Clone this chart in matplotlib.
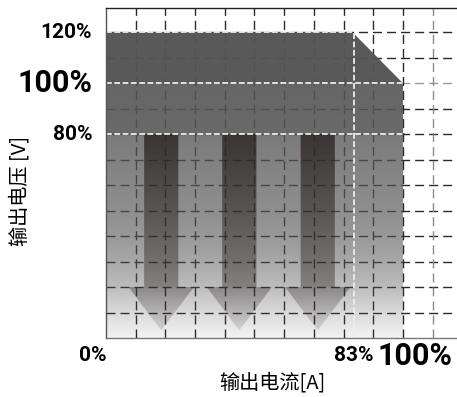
import numpy as np
import matplotlib
matplotlib.use("Agg")
import matplotlib.pyplot as plt
from matplotlib.patches import Polygon

# 输出特性 (单位: %)
limit_current = [0, 0, 83, 100, 100]
limit_voltage = [0, 120, 120, 100, 0]
x_tick_values = [0, 83, 100]
x_tick_labels = ["0%", "83%", "100%"]
y_tick_values = [80, 100, 120]
y_tick_labels = ["80%", "100%", "120%"]
arrow_centers = [18.6, 44.9, 71.3]   # 下降箭头位置 (% 电流)

cjk = ["Noto Sans CJK SC", "DejaVu Sans"]
num_font = ["Roboto", "DejaVu Sans"]

fig = plt.figure(figsize=(4.57, 3.97), dpi=100)
ax = fig.add_axes([106 / 457, 59 / 397, 351 / 457, 330 / 397])
ax.set_xlim(0, 118.2)
ax.set_ylim(0, 129.5)
ax.set_xticks([])
ax.set_yticks([])

dash = (0, (6.5, 3.6))
grid_c = "#2a2a2a"
# 网格
for y in range(10, 130, 10):
    c = "#9a9a9a" if y == 100 else grid_c
    ax.plot([0, 118.2], [y, y], color=c, lw=1, ls=dash, zorder=1)
for x in range(10, 120, 10):
    c = "#8a8a8a" if x == 110 else grid_c
    ax.plot([x, x], [0, 129.5], color=c, lw=1, ls=dash, zorder=1)

# 工作区域 (渐变覆盖层)
area = Polygon(np.column_stack([limit_current, limit_voltage]), closed=True,
               facecolor="none", edgecolor="none")
ax.add_patch(area)
ys = np.linspace(0, 120, 600)
alpha = np.interp(ys, [0, 10, 20, 30, 40, 50, 60, 70, 79.9, 80, 99.9, 100, 120],
                  [0.07, 0.22, 0.39, 0.51, 0.60, 0.66, 0.70, 0.74, 0.78, 0.88, 0.9, 0.97, 0.97])
img = np.zeros((len(ys), 1, 4))
img[..., :3] = 0.33
img[:, 0, 3] = alpha
im = ax.imshow(img, extent=(0, 100, 0, 120), origin="lower", aspect="auto",
               interpolation="bilinear", zorder=2)
im.set_clip_path(area)

# 下降箭头
shaft_w, head_w = 11.5, 22.0
for cx in arrow_centers:
    pts = [(cx - shaft_w / 2, 80), (cx + shaft_w / 2, 80), (cx + shaft_w / 2, 20),
           (cx + head_w / 2, 20), (cx, 3), (cx - head_w / 2, 20), (cx - shaft_w / 2, 20)]
    arr = Polygon(pts, closed=True, facecolor="none", edgecolor="none")
    ax.add_patch(arr)
    ya = np.linspace(0, 80, 400)
    aa = np.interp(ya, [3, 19.9, 20, 40, 60, 80], [0.12, 0.33, 0.38, 0.45, 0.58, 0.76])
    aimg = np.zeros((len(ya), 1, 4))
    aimg[..., 0] = 0.15
    aimg[..., 1] = 0.12
    aimg[..., 2] = 0.12
    aimg[:, 0, 3] = aa
    a_im = ax.imshow(aimg, extent=(cx - head_w / 2, cx + head_w / 2, 0, 80), origin="lower",
                     aspect="auto", interpolation="bilinear", zorder=3)
    a_im.set_clip_path(arr)

# 白色虚线
wdash = (0, (3.2, 1.4))
wc = "#ececec"
ax.plot([0, 83], [120, 120], color=wc, lw=1.3, ls=wdash, zorder=4)
ax.plot([0, 100], [100, 100], color=wc, lw=1.3, ls=wdash, zorder=4)
ax.plot([0, 100], [80, 80], color=wc, lw=1.3, ls=wdash, zorder=4)
ax.plot([83.5, 83.5], [0, 120], color=wc, lw=1.3, ls=wdash, zorder=4)

ax.set_xlim(0, 118.2)
ax.set_ylim(0, 129.5)

ax.spines["right"].set_visible(False)
ax.spines["top"].set_color("#222222")
ax.spines["left"].set_color("#555555")
ax.spines["bottom"].set_color("#777777")
for s in ["top", "left", "bottom"]:
    ax.spines[s].set_linewidth(1.0)
    ax.spines[s].set_zorder(5)

# 刻度文字
for v, lab in zip(y_tick_values, y_tick_labels):
    big = v == 100
    ax.text(-4.7, v, lab, ha="right", va="center", family=num_font, fontweight="bold",
            fontsize=22 if big else 15, clip_on=False)
x_pos = {0: -4.4, 83: 83.5, 100: 104}
for v, lab in zip(x_tick_values, x_tick_labels):
    big = v == 100
    ax.text(x_pos[v], -7.0, lab, ha="center", va="center", family=num_font, fontweight="bold",
            fontsize=22 if big else 15, clip_on=False)

fig.text(272 / 457, 1 - 383 / 397, "输出电流[A]", ha="center", va="center",
         family=cjk, fontsize=14.5)
fig.text(20 / 457, 1 - 191 / 397, "输出电压 [V]", ha="center", va="center",
         family=cjk, fontsize=14.5, rotation=90)

fig.savefig("out.png", dpi=100)
